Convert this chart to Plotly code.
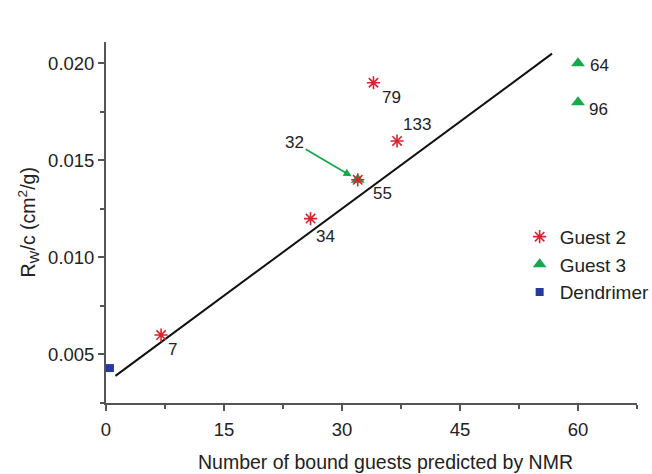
import plotly.graph_objects as go

# ---- data ----
guest2_x = [7, 26, 32, 37, 34]
guest2_y = [0.0060, 0.0120, 0.0140, 0.0160, 0.0190]
guest2_labels = ["7", "34", "55", "133", "79"]

guest3_x = [60, 60, 32]
guest3_y = [0.0200, 0.0180, 0.0140]
guest3_labels = ["64", "96", "32"]

dend_x = [0.5]
dend_y = [0.0043]

fit_x = [1.2, 56.7]
fit_y = [0.0039, 0.0205]

x_ticks = [0, 15, 30, 45, 60]
y_ticks = [0.005, 0.010, 0.015, 0.020]
y_ticktext = ["0.005", "0.010", "0.015", "0.020"]

x_title = "Number of bound guests predicted by NMR"
y_title = "R<sub>W</sub>/c (cm<sup>2</sup>/g)"

# label offsets in pixels (style)
g2_off = [(11, -14), (15, -18), (25, -14), (20, 16), (18, -15)]
g3_off = [(21, -2), (20, -7)]

FONT = "Liberation Sans, Arial, Helvetica, sans-serif"
TXT = "#222222"
AX = "#555555"
LBL = 17

fig = go.Figure()

fig.add_trace(go.Scatter(
    x=fit_x, y=fit_y, mode="lines",
    line=dict(color="#111111", width=2), showlegend=False, hoverinfo="skip"))

fig.add_trace(go.Scatter(
    x=guest3_x, y=guest3_y, mode="markers", name="Guest 3", legendrank=2,
    marker=dict(symbol="triangle-up", size=12, color="#17a84b",
                line=dict(width=0))))

fig.add_trace(go.Scatter(
    x=guest2_x, y=guest2_y, mode="markers", name="Guest 2", legendrank=1,
    marker=dict(symbol="asterisk-open", size=11, color="#dc2230",
                line=dict(width=1.6, color="#dc2230"))))

fig.add_trace(go.Scatter(
    x=dend_x, y=dend_y, mode="markers", name="Dendrimer", legendrank=3,
    marker=dict(symbol="square", size=8, color="#263a9c")))

annotations = []
for x, y, t, (dx, dy) in zip(guest2_x, guest2_y, guest2_labels, g2_off):
    annotations.append(dict(x=x, y=y, xref="x", yref="y", text=t, showarrow=False,
                            xshift=dx, yshift=dy, font=dict(size=LBL, color=TXT, family=FONT)))
for x, y, t, (dx, dy) in zip(guest3_x[:2], guest3_y[:2], guest3_labels[:2], g3_off):
    annotations.append(dict(x=x, y=y, xref="x", yref="y", text=t, showarrow=False,
                            xshift=dx, yshift=dy, font=dict(size=LBL, color=TXT, family=FONT)))
annotations.append(dict(x=guest3_x[2], y=guest3_y[2], xref="x", yref="y",
                        text=guest3_labels[2], showarrow=True, ax=-63, ay=-37,
                        arrowhead=2, arrowsize=0.9, arrowwidth=1.8, arrowcolor="#17a84b",
                        standoff=7, font=dict(size=LBL, color=TXT, family=FONT)))
# axis titles
annotations.append(dict(x=0.527, y=0, xref="paper", yref="paper", text=x_title,
                        showarrow=False, xanchor="center", yanchor="middle", yshift=-59,
                        font=dict(size=19.5, color=TXT, family=FONT)))
annotations.append(dict(x=0, y=0.5, xref="paper", yref="paper", text=y_title,
                        showarrow=False, xanchor="center", yanchor="middle", xshift=-78,
                        textangle=-90, font=dict(size=19.5, color=TXT, family=FONT)))

fig.update_layout(
    width=652, height=474,
    margin=dict(l=106, r=15, t=42, b=71, autoexpand=False),
    paper_bgcolor="white", plot_bgcolor="white",
    font=dict(family=FONT, size=18, color=TXT),
    annotations=annotations,
    legend=dict(x=0.779, y=0.513, xanchor="left", yanchor="top",
                font=dict(size=19, color=TXT, family=FONT),
                bgcolor="rgba(0,0,0,0)", itemsizing="trace", tracegroupgap=0),
    xaxis=dict(range=[0, 67.5], tickvals=x_ticks, ticks="outside", ticklen=6,
               tickwidth=1.6, tickcolor=AX, showline=True, linecolor=AX, linewidth=1.8,
               showgrid=False, zeroline=False, ticklabelstandoff=3,
               minor=dict(dtick=7.5, tick0=0, ticks="outside", ticklen=4, tickcolor=AX, tickwidth=1.6),
               tickfont=dict(size=18.5, color=TXT)),
    yaxis=dict(range=[0.0025, 0.0211], tickvals=y_ticks, ticktext=y_ticktext,
               ticks="outside", ticklen=6, tickwidth=1.6, tickcolor=AX,
               showline=True, linecolor=AX, linewidth=1.8, showgrid=False, zeroline=False,
               minor=dict(dtick=0.0025, tick0=0, ticks="outside", ticklen=4, tickcolor=AX, tickwidth=1.6),
               tickfont=dict(size=18.5, color=TXT)),
)

fig.write_html("out.html")
